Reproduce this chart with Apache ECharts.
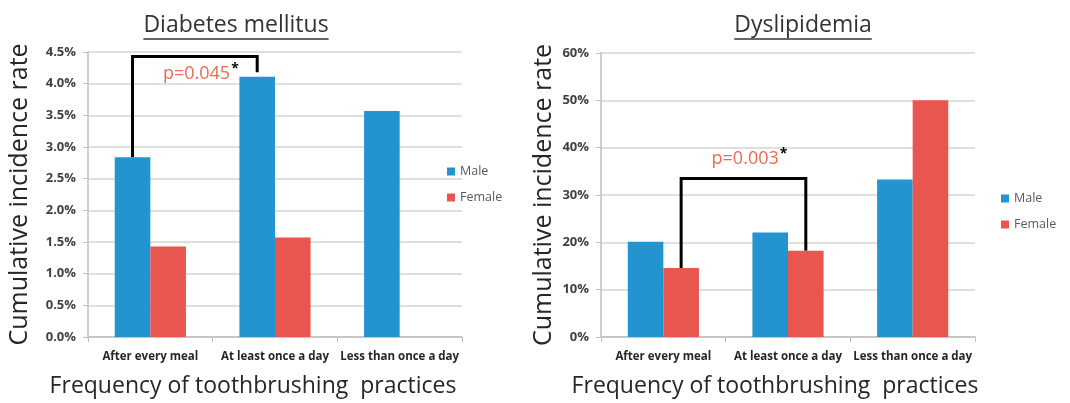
<!DOCTYPE html>
<html>
<head>
<meta charset="utf-8">
<script src="https://cdn.jsdelivr.net/npm/echarts@6/dist/echarts.min.js"></script>
<style>
  html, body { margin: 0; padding: 0; background: #fff; }
  #chart { width: 1070px; height: 403px; }
</style>
</head>
<body>
<div id="chart"></div>
<script>
  // data
  const categories = ['After every meal', 'At least once a day', 'Less than once a day'];
  const dmMale = [2.84, 4.11, 3.57];
  const dmFemale = [1.43, 1.57, null];
  const dyMale = [20.1, 22.1, 33.3];
  const dyFemale = [14.6, 18.2, 50.0];
  const dmAxis = { min: 0, max: 4.5, interval: 0.5 };
  const dyAxis = { min: 0, max: 60, interval: 10 };
  // significance brackets: [fromCat, fromSeries, fromValue, toCat, toSeries, toValue, topValue, label]
  const dmBracket = [0, 0, dmMale[0], 1, 0, 4.18, 4.43, 'p=0.045'];
  const dyBracket = [0, 1, dyFemale[0], 1, 1, dyFemale[1], 33.5, 'p=0.003'];

  const BLUE = '#2394cf';
  const RED = '#e8564f';
  const FONT = '"Open Sans", "Noto Sans", sans-serif';

  const chart = echarts.init(document.getElementById('chart'));

  function yAxisOf(gridIndex, cfg, fmt) {
    return {
      type: 'value', gridIndex: gridIndex,
      min: cfg.min, max: cfg.max, interval: cfg.interval,
      name: 'Cumulative incidence rate',
      nameLocation: 'middle',
      nameGap: gridIndex === 0 ? 56 : 45,
      nameTextStyle: { fontFamily: FONT, fontSize: 25, color: '#262626' },
      axisLine: { show: true, lineStyle: { color: '#bfbfbf', width: 1.5 } },
      axisTick: { show: true, length: 5, lineStyle: { color: '#bfbfbf' } },
      splitLine: { lineStyle: { color: '#d4d4d4', width: 1.5 } },
      axisLabel: { formatter: fmt, fontFamily: FONT, fontWeight: 'bold', fontSize: 13, color: '#404040', margin: 12 }
    };
  }

  function xAxisOf(gridIndex) {
    return {
      type: 'category', gridIndex: gridIndex, data: categories,
      name: 'Frequency of toothbrushing  practices',
      nameLocation: 'middle', nameGap: 38,
      nameTextStyle: { fontFamily: FONT, fontSize: 23, color: '#262626', padding: [0, gridIndex === 0 ? 44 : 26, 0, 0] },
      axisLine: { lineStyle: { color: '#bfbfbf', width: 1.5 } },
      axisTick: { show: true, length: 5, lineStyle: { color: '#bfbfbf' } },
      axisLabel: { interval: 0, fontFamily: FONT, fontWeight: 'bold', fontSize: 11.5, color: '#262626', margin: 14 }
    };
  }

  function barSeries(name, color, data, idx) {
    return {
      name: name, type: 'bar', xAxisIndex: idx, yAxisIndex: idx,
      data: data, barGap: '0%', barCategoryGap: '42.9%',
      itemStyle: { color: color }
    };
  }

  chart.setOption({
    animation: false,
    textStyle: { fontFamily: FONT },
    grid: [
      { left: 88, right: 608, top: 52, bottom: 60 },
      { left: 601, right: 95, top: 53, bottom: 60 }
    ],
    xAxis: [xAxisOf(0), xAxisOf(1)],
    yAxis: [
      yAxisOf(0, dmAxis, v => v.toFixed(1) + '%'),
      yAxisOf(1, dyAxis, v => v + '%')
    ],
    legend: [
      { orient: 'vertical', left: 442, top: 160, icon: 'rect', itemWidth: 8, itemHeight: 8, itemGap: 13,
        data: ['Male', 'Female'], textStyle: { fontSize: 12.5, color: '#595959' } },
      { orient: 'vertical', left: 996, top: 187, icon: 'rect', itemWidth: 8, itemHeight: 8, itemGap: 13,
        data: ['Male', 'Female'], textStyle: { fontSize: 12.5, color: '#595959' } }
    ],
    series: [
      barSeries('Male', BLUE, dmMale, 0),
      barSeries('Female', RED, dmFemale, 0),
      barSeries('Male', BLUE, dyMale, 1),
      barSeries('Female', RED, dyFemale, 1)
    ]
  });

  // titles with underline, brackets and p-values
  const measure = document.createElement('canvas').getContext('2d');
  function titleGroup(text, cx, y) {
    const font = '23px ' + FONT;
    measure.font = font;
    const w = measure.measureText(text).width;
    return {
      type: 'group',
      children: [
        { type: 'text', x: cx, y: y, style: { text: text, font: font, fill: '#333', align: 'center', verticalAlign: 'middle' } },
        { type: 'line', shape: { x1: cx - w / 2, y1: y + 14, x2: cx + w / 2, y2: y + 14 }, style: { stroke: '#333', lineWidth: 1.3 } }
      ]
    };
  }

  function bracketGroup(b, gridIndex) {
    const finder = { xAxisIndex: gridIndex, yAxisIndex: gridIndex };
    const c0 = chart.convertToPixel(finder, [b[0], 0])[0];
    const c1 = chart.convertToPixel(finder, [b[0] + 1, 0])[0];
    const bw = (c1 - c0) / 3.5;
    const xOf = (cat, s) => chart.convertToPixel(finder, [cat, 0])[0] + (s === 0 ? -bw / 2 : bw / 2);
    const yOf = v => chart.convertToPixel(finder, [0, v])[1];
    const xa = xOf(b[0], b[1]), xb = xOf(b[3], b[4]);
    const yTop = yOf(b[6]);
    return {
      type: 'group',
      children: [
        { type: 'polyline', shape: { points: [[xa, yOf(b[2])], [xa, yTop], [xb, yTop], [xb, yOf(b[5])]] },
          style: { stroke: '#000', lineWidth: 3, fill: null } },
        { type: 'text', x: (xa + xb) / 2 + 6, y: gridIndex === 0 ? yTop + 17 : yTop - 20,
          style: {
            text: '{p|' + b[7] + '}{s|*}',
            align: 'center', verticalAlign: 'middle',
            rich: {
              p: { fontSize: 18, fontFamily: FONT, fill: '#ec6a52' },
              s: { fontSize: 14, fontWeight: 'bold', fontFamily: FONT, fill: '#000', verticalAlign: 'top', padding: [0, 0, 8, 1] }
            }
          } }
      ]
    };
  }

  chart.setOption({
    graphic: [
      titleGroup('Diabetes mellitus', 236, 25),
      titleGroup('Dyslipidemia', 803, 25),
      bracketGroup(dmBracket, 0),
      bracketGroup(dyBracket, 1)
    ]
  });
</script>
</body>
</html>
